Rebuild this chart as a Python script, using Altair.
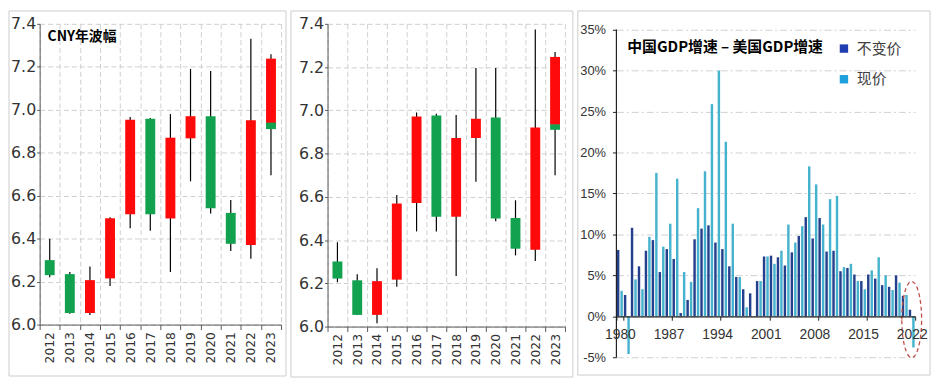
import altair as alt
import pandas as pd

# ---------------- Panel 1 & 2: CNY yearly candles ----------------
years = [str(y) for y in range(2012, 2024)]

p1_open  = [6.300, 6.235, 6.054, 6.215, 6.514, 6.958, 6.494, 6.867, 6.970, 6.520, 6.371, 6.923]
p1_close = [6.230, 6.054, 6.207, 6.495, 6.954, 6.514, 6.870, 6.970, 6.541, 6.376, 6.951, 7.238]
p1_high  = [6.400, 6.245, 6.270, 6.500, 6.966, 6.962, 6.980, 7.190, 7.180, 6.580, 7.331, 7.258]
p1_low   = [6.220, 6.050, 6.045, 6.180, 6.448, 6.437, 6.245, 6.667, 6.517, 6.342, 6.307, 6.695]
p1_extra_year = ["2023"]
p1_extra_top = [6.940]
p1_extra_bottom = [6.910]

p2_open  = [6.301, 6.214, 6.054, 6.217, 6.571, 6.976, 6.508, 6.872, 6.967, 6.502, 6.355, 6.933]
p2_close = [6.222, 6.054, 6.210, 6.569, 6.972, 6.508, 6.872, 6.961, 6.500, 6.360, 6.921, 7.247]
p2_high  = [6.390, 6.242, 6.270, 6.609, 6.990, 6.984, 6.979, 7.196, 7.196, 6.584, 7.374, 7.270]
p2_low   = [6.205, 6.054, 6.015, 6.184, 6.440, 6.440, 6.234, 6.670, 6.487, 6.329, 6.303, 6.700]
p2_extra_year = ["2023"]
p2_extra_top = [6.935]
p2_extra_bottom = [6.910]

cny_ticks = [6.0, 6.2, 6.4, 6.6, 6.8, 7.0, 7.2, 7.4]
panel1_title = "CNY年波幅"

# ---------------- Panel 3: China GDP growth minus US GDP growth ----------------
gdp_years = list(range(1980, 2023))
series = ["不变价", "现价"]
gdp_const = [8.1, 2.6, 10.8, 6.1, 8.0, 9.3, 5.4, 8.2, 7.0, 0.4,
             2.0, 9.4, 10.7, 11.1, 9.0, 8.2, 6.1, 4.8, 3.3, 2.8,
             4.3, 7.3, 7.4, 7.2, 6.2, 7.8, 9.8, 12.1, 9.5, 12.0,
             7.9, 8.0, 5.5, 5.9, 5.1, 4.3, 5.1, 4.6, 3.8, 3.6,
             5.0, 2.5, 0.8]
gdp_current = [3.1, -4.6, 4.5, 3.3, 9.7, 17.5, 8.5, 11.3, 16.8, 5.4,
               4.2, 13.2, 17.7, 25.9, 30.0, 21.3, 11.3, 4.8, 1.1, 0.0,
               4.3, 7.3, 6.4, 8.0, 11.2, 9.0, 11.0, 18.3, 16.1, 11.2,
               14.3, 14.7, 6.0, 6.4, 4.3, 3.3, 5.6, 7.2, 5.0, 3.2,
               4.1, 2.6, -3.8]
gdp_year_labels = [1980, 1987, 1994, 2001, 2008, 2015, 2022]
gdp_ticks = [-5, 0, 5, 10, 15, 20, 25, 30, 35]
panel3_title = "中国GDP增速 – 美国GDP增速"
highlight_year = [2022]
highlight_center = [-0.4]

# ---------------- styles ----------------
RED = "#FF0A0A"
GREEN = "#12A24F"
BAR_COLORS = ["#24408C", "#45B2CE"]
LEGEND_COLORS = ["#1F3FB0", "#1EA0DC"]
CJK = "Noto Sans CJK SC"
FRAME = "#CCCCCC"
GRID = "#CFCFCF"
AXIS = "#595959"
one = pd.DataFrame({"k": [0]})
TOP = -13  # frame top, relative to the (shared) plot origin


def frame_layer(x1, x2, y1, y2):
    return alt.Chart(one).mark_rect(fill="white", fillOpacity=0, stroke=FRAME, strokeWidth=1).encode(
        x=alt.value(x1), x2=alt.value(x2), y=alt.value(y1), y2=alt.value(y2))


def candle_panel(o, c, h, l, ex_year, ex_top, ex_bot, W, H, fr, title=None):
    df = pd.DataFrame({"year": years, "open": o, "close": c, "high": h, "low": l})
    df["dir"] = ["up" if cc >= oo else "down" for oo, cc in zip(o, c)]
    ex = pd.DataFrame({"year": ex_year, "top": ex_top, "bottom": ex_bot})
    xenc = alt.X("year:O", sort=years, title=None,
                 scale=alt.Scale(paddingInner=0, paddingOuter=0),
                 axis=alt.Axis(labelAngle=270, labelFont="DejaVu Sans", labelFontSize=12.5,
                               labelColor="#333333", labelPadding=2, tickBand="extent",
                               tickSize=5, tickColor=AXIS, domainColor=AXIS,
                               grid=True, gridColor=GRID, gridDash=[5, 3]))
    ysc = alt.Scale(domain=[6.0, 7.4], nice=False, zero=False)
    yax = alt.Axis(values=cny_ticks, format=".1f", labelFont="DejaVu Sans", labelFontSize=16,
                   labelColor="#333333", labelPadding=1, tickSize=3, tickColor=AXIS,
                   domainColor=AXIS, grid=True, gridColor=GRID, gridDash=[5, 3])
    wick = alt.Chart(df).mark_rule(color="black", strokeWidth=1.2).encode(
        x=xenc, y=alt.Y("low:Q", scale=ysc, axis=yax, title=None), y2="high:Q")
    body = alt.Chart(df).mark_bar(size=10).encode(
        x=xenc, y=alt.Y("open:Q", scale=ysc, axis=yax, title=None), y2="close:Q",
        color=alt.Color("dir:N", scale=alt.Scale(domain=["up", "down"], range=[RED, GREEN]), legend=None))
    extra = alt.Chart(ex).mark_bar(size=10, color=GREEN).encode(
        x=xenc, y=alt.Y("bottom:Q", scale=ysc, axis=yax, title=None), y2="top:Q")
    layers = [frame_layer(fr[0], W + fr[1], TOP, H + fr[2]), wick, body, extra]
    if title:
        layers.append(alt.Chart(one).mark_text(text=title, align="left", baseline="middle", font=CJK,
                                               fontSize=14, fontWeight="bold", color="black").encode(
            x=alt.value(8), y=alt.value(13)))
    return alt.layer(*layers).properties(width=W, height=H)


W1, H1 = 244, 304
W2, H2 = 240, 306
W3, H3 = 302, 337
Y3_TOP = 35.7  # headroom so that the 35% line sits a little lower than the candles' top

p1 = candle_panel(p1_open, p1_close, p1_high, p1_low, p1_extra_year, p1_extra_top, p1_extra_bottom,
                  W1, H1, (-31, 5, 52), panel1_title)
p2 = candle_panel(p2_open, p2_close, p2_high, p2_low, p2_extra_year, p2_extra_top, p2_extra_bottom,
                  W2, H2, (-37, 8, 51))

# Panel 3
df3 = pd.DataFrame({
    "year": gdp_years * 2,
    "series": [series[0]] * len(gdp_years) + [series[1]] * len(gdp_years),
    "value": gdp_const + gdp_current,
})
zero_offset = -H3 * 5 / (Y3_TOP + 5)
x3 = alt.X("year:O", title=None, scale=alt.Scale(paddingInner=0, paddingOuter=0),
           axis=alt.Axis(values=gdp_year_labels, labelAngle=0, offset=zero_offset, tickBand="extent",
                         tickSize=4, tickColor="#222222", domainColor="#222222", domainWidth=1.3,
                         labelFont="Liberation Sans", labelFontSize=14, labelColor="#333333",
                         labelPadding=7, grid=False, zindex=1))
y3sc = alt.Scale(domain=[-5, Y3_TOP], nice=False)
y3ax = alt.Axis(values=gdp_ticks, labelExpr="datum.value + '%'", tickSize=4, tickColor="#222222",
                domain=False, labelFont="Liberation Sans", labelFontSize=13,
                labelColor="#333333", labelPadding=7, grid=True, gridColor=GRID, gridDash=[7, 3, 2, 3])
bars = alt.Chart(df3).mark_bar().encode(
    x=x3,
    xOffset=alt.XOffset("series:N", sort=series, scale=alt.Scale(paddingInner=0.3, paddingOuter=0.15)),
    y=alt.Y("value:Q", scale=y3sc, axis=y3ax, title=None),
    color=alt.Color("series:N", sort=series, scale=alt.Scale(domain=series, range=BAR_COLORS), legend=None),
)
yline = alt.Chart(one).mark_rule(color="#222222", strokeWidth=1.2).encode(
    x=alt.value(0), y=alt.datum(gdp_ticks[0], scale=y3sc), y2=alt.datum(gdp_ticks[-1]))
ELLIPSE = "M -0.26 0 A 0.26 1 0 1 1 0.26 0 A 0.26 1 0 1 1 -0.26 0 Z"
hl = alt.Chart(pd.DataFrame({"year": highlight_year, "value": highlight_center})).mark_point(
    shape=ELLIPSE, size=5929, filled=False, stroke="#C0504D", strokeWidth=1.3,
    strokeDash=[4, 3], opacity=1).encode(
    x=alt.X("year:O"), y=alt.Y("value:Q", scale=y3sc))
title3 = alt.Chart(one).mark_text(text=panel3_title, align="left", baseline="middle", font=CJK,
                                  fontSize=15, fontWeight="bold", color="black").encode(
    x=alt.value(11), y=alt.value(23))
legend_layers = []
for i, name in enumerate(series):
    legend_layers.append(alt.Chart(one).mark_square(size=72, color=LEGEND_COLORS[i], opacity=1).encode(
        x=alt.value(230), y=alt.value(25 + 31 * i)))
    legend_layers.append(alt.Chart(one).mark_text(text=name, align="left", baseline="middle", font=CJK,
                                                  fontSize=15, color="#404040").encode(
        x=alt.value(243), y=alt.value(25 + 31 * i)))

p3 = alt.layer(frame_layer(-39, W3 + 15, TOP, H3 + 18), bars, yline, hl, title3,
               *legend_layers).properties(width=W3, height=H3)

chart = alt.hconcat(p1, p2, p3, spacing=3).resolve_scale(color="independent").properties(
    padding=0, background="white").configure_view(strokeWidth=0)

chart.save("out.html", embed_options={"renderer": "svg", "actions": False})
